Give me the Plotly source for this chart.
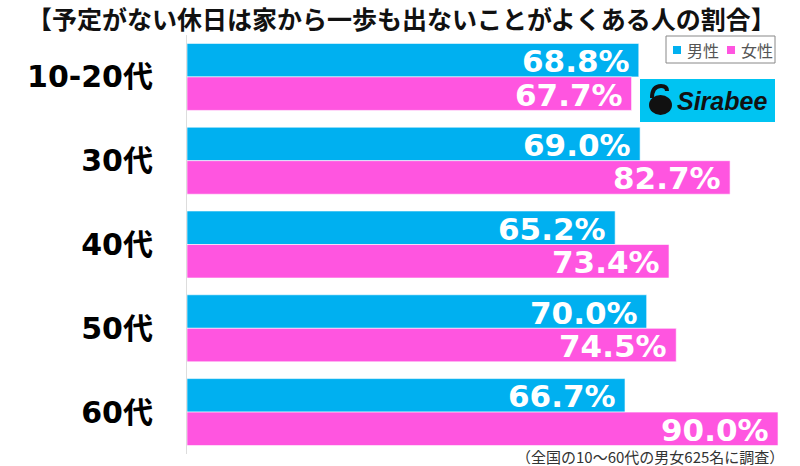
import plotly.graph_objects as go

categories = ["10-20代", "30代", "40代", "50代", "60代"]
male = [68.8, 69.0, 65.2, 70.0, 66.7]
female = [67.7, 82.7, 73.4, 74.5, 90.0]
series_names = ["男性", "女性"]
title_text = "【予定がない休日は家から一歩も出ないことがよくある人の割合】"
note_text = "（全国の10〜60代の男女625名に調査）"

CYAN = "#00B0F0"
MAGENTA = "#FF55E0"
L, T, B = 187, 35, 454
W, H = 800, 466

def px(x):
    return (x - L) / (W - L)

def py(y):
    return (B - y) / (B - T)

num_font = dict(family="DejaVu Sans, Noto Sans CJK JP", size=31, color="white", weight="bold")

fig = go.Figure()
for name, vals, col in [(series_names[0], male, CYAN), (series_names[1], female, MAGENTA)]:
    fig.add_trace(go.Bar(
        y=categories, x=vals, orientation="h", name=name,
        marker=dict(color=col, line=dict(color="rgba(255,255,255,0.6)", width=1)),
        showlegend=False, hoverinfo="x+y",
    ))

fig.update_layout(
    width=W, height=H, barmode="group", bargap=0.2, bargroupgap=0,
    margin=dict(l=L, r=0, t=T, b=H - B),
    plot_bgcolor="white", paper_bgcolor="white",
    xaxis=dict(range=[0, (W - L) / 6.567], visible=False, fixedrange=True),
    yaxis=dict(autorange="reversed", showgrid=False, showline=True, linecolor="#dddddd",
               linewidth=1, ticks="", ticklabelstandoff=27,
               tickfont=dict(family="DejaVu Sans, Noto Sans CJK JP", size=30, color="black", weight="bold")),
)

ann = []
bar_half = (B - T) / len(categories) * 0.8 / 4
for vals, sgn in [(male, 1), (female, -1)]:
    for c, v in zip(categories, vals):
        ann.append(dict(text=f"{v:.1f}%", x=v, y=c, xref="x", yref="y", showarrow=False,
                        xanchor="right", yanchor="middle", xshift=-7, yshift=sgn * bar_half - 1,
                        font=num_font))

ann.append(dict(text=title_text, x=px(401), y=py(18), xref="paper", yref="paper",
                showarrow=False, xanchor="center", yanchor="middle",
                font=dict(family="Noto Sans CJK JP", size=25, color="#111", weight="bold")))
ann.append(dict(text=note_text, x=px(786), y=py(456), xref="paper", yref="paper",
                showarrow=False, xanchor="right", yanchor="middle",
                font=dict(family="Noto Sans CJK JP", size=15, color="#333")))
# legend
ann.append(dict(text=series_names[0], x=px(685), y=py(50), xref="paper", yref="paper",
                showarrow=False, xanchor="left", yanchor="middle",
                font=dict(family="Noto Sans CJK JP", size=16, color="#555")))
ann.append(dict(text=series_names[1], x=px(739), y=py(50), xref="paper", yref="paper",
                showarrow=False, xanchor="left", yanchor="middle",
                font=dict(family="Noto Sans CJK JP", size=16, color="#555")))
# logo text
ann.append(dict(text="<b><i>Sirabee</i></b>", x=px(722), y=py(101), xref="paper", yref="paper",
                showarrow=False, xanchor="center", yanchor="middle",
                font=dict(family="Liberation Sans", size=25, color="#111")))

shapes = [
    dict(type="rect", xref="paper", yref="paper", x0=px(666), x1=px(775), y0=py(36), y1=py(63),
         line=dict(color="#888", width=1), fillcolor="white"),
    dict(type="rect", xref="paper", yref="paper", x0=px(673), x1=px(681), y0=py(46), y1=py(54),
         line=dict(width=0), fillcolor=CYAN),
    dict(type="rect", xref="paper", yref="paper", x0=px(727), x1=px(735), y0=py(46), y1=py(54),
         line=dict(width=0), fillcolor=MAGENTA),
    dict(type="rect", xref="paper", yref="paper", x0=px(640), x1=px(775), y0=py(79), y1=py(122),
         line=dict(width=0), fillcolor="#00C4F2"),
    dict(type="circle", xref="paper", yref="paper", x0=px(649), x1=px(672), y0=py(95), y1=py(115),
         line=dict(width=0), fillcolor="#111"),
    dict(type="path", xref="paper", yref="paper",
         path=f"M {px(652)},{py(98)} Q {px(652)},{py(86)} {px(661)},{py(86)} Q {px(667)},{py(86)} {px(667)},{py(91)}",
         line=dict(color="#111", width=4)),
]
fig.update_layout(annotations=ann, shapes=shapes)
fig.write_html("out.html")
